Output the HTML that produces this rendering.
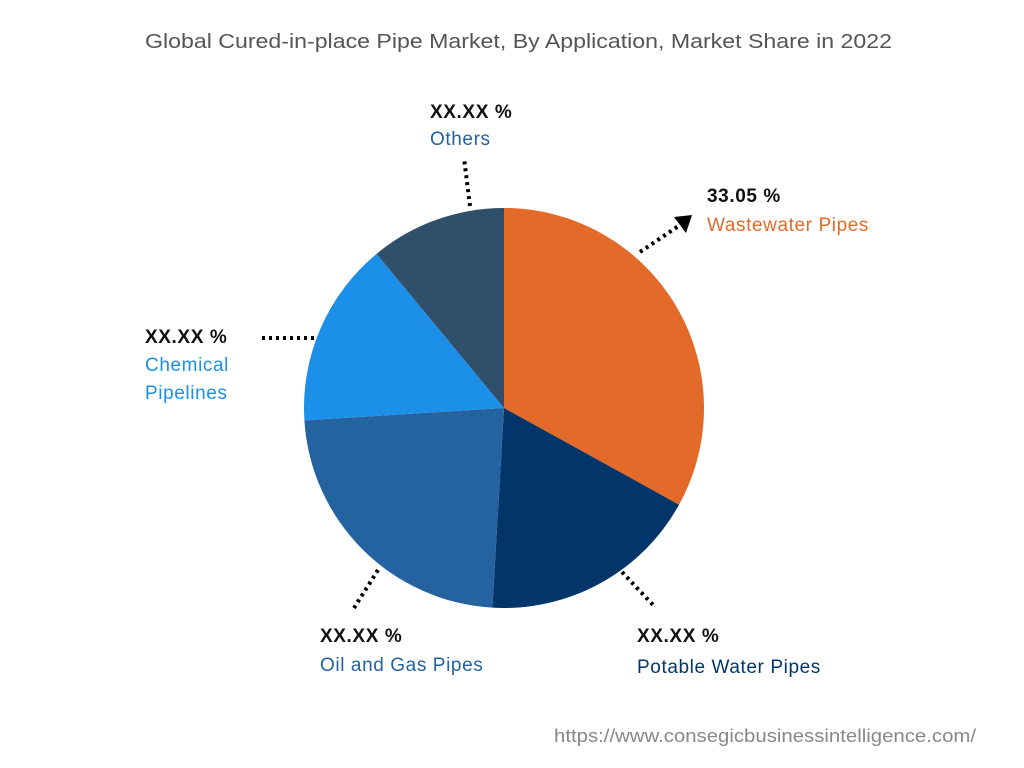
<!DOCTYPE html>
<html><head><meta charset="utf-8"><style>
body{margin:0;width:1024px;height:768px;background:#fff;font-family:"Liberation Sans",sans-serif;overflow:hidden}
svg{display:block}
</style></head><body>
<svg width="1024" height="768">
<text x="145" y="48" textLength="747" lengthAdjust="spacingAndGlyphs" font-size="20" fill="#555">Global Cured-in-place Pipe Market, By Application, Market Share in 2022</text>
<g id="pie"></g>
<g stroke="#000" stroke-width="4" stroke-dasharray="3,4" fill="none">
<line x1="640" y1="252" x2="680" y2="225"/>
<line x1="470" y1="206" x2="464" y2="158"/>
<line x1="262" y1="338" x2="316" y2="338"/>
<line x1="378" y1="570" x2="354" y2="608"/>
<line x1="622" y1="572" x2="654" y2="606"/>
</g>
<polygon points="692,215 674,217 686,233" fill="#000"/>
<g font-size="19" letter-spacing="0.6">
<text x="707" y="202" font-weight="bold" fill="#111">33.05 %</text>
<text x="707" y="231" fill="#E36A28">Wastewater Pipes</text>
<text x="430" y="118" font-weight="bold" fill="#111">XX.XX %</text>
<text x="430" y="145" fill="#2462A0">Others</text>
<text x="145" y="343" font-weight="bold" fill="#111">XX.XX %</text>
<text x="145" y="371" fill="#1C8FE8">Chemical</text>
<text x="145" y="399" fill="#1C8FE8">Pipelines</text>
<text x="320" y="642" font-weight="bold" fill="#111">XX.XX %</text>
<text x="320" y="671" fill="#2462A0">Oil and Gas Pipes</text>
<text x="637" y="642" font-weight="bold" fill="#111">XX.XX %</text>
<text x="637" y="673" fill="#02366A">Potable Water Pipes</text>
</g>
<text x="554" y="742" textLength="422" lengthAdjust="spacingAndGlyphs" font-size="18" fill="#888">https://www.consegicbusinessintelligence.com/</text>
</svg>
<script>
const categories=["Wastewater Pipes","Potable Water Pipes","Oil and Gas Pipes","Chemical Pipelines","Others"];
const values=[33.05,17.9,23.1,15.0,11.0];
const colors=["#E36A28","#02366A","#2462A0","#1C8FE8","#2F4F6B"];
const cx=504,cy=408,r=200;
const g=document.getElementById('pie');
const tot=values.reduce((a,b)=>a+b,0);
let a0=0;
values.forEach((v,i)=>{
  const a1=a0+v/tot*2*Math.PI;
  const p=t=>[cx+r*Math.sin(t),cy-r*Math.cos(t)];
  const s=p(a0),e=p(a1);
  const path=document.createElementNS('http://www.w3.org/2000/svg','path');
  path.setAttribute('d',`M${cx},${cy}L${s[0]},${s[1]}A${r},${r} 0 ${a1-a0>Math.PI?1:0} 1 ${e[0]},${e[1]}Z`);
  path.setAttribute('fill',colors[i]);
  
  
  g.appendChild(path);
  a0=a1;
});
</script>
</body></html>
